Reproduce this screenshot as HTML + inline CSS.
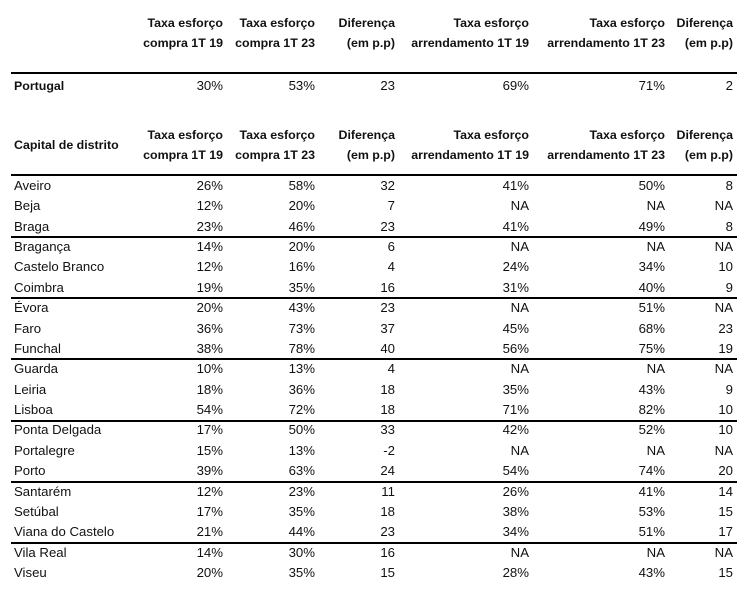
<!DOCTYPE html>
<html><head><meta charset="utf-8"><style>
body{margin:0;width:749px;height:593px;background:#fff;position:relative;font-family:"Liberation Sans",Arial,sans-serif;font-size:13.2px;color:#111;overflow:hidden}
.t{position:absolute;white-space:nowrap;line-height:14px}
.b{font-weight:bold;font-size:12.4px}
.l{position:absolute;left:11px;width:726px;background:#000}
</style></head><body>
<div id="c"></div>
<script>
var c=document.getElementById('c');var h='';
var R=[223,315,395,529,665,733];
function t(x,y,s,cls,right){h+='<div class="t '+(cls||'')+'" style="top:'+(y-7)+'px;'+(right?'right:'+(749-x)+'px':'left:'+x+'px')+'">'+s+'</div>';}
function hdr(y1,y2){var a=[['Taxa esforço','compra 1T 19'],['Taxa esforço','compra 1T 23'],['Diferença','(em p.p)'],['Taxa esforço','arrendamento 1T 19'],['Taxa esforço','arrendamento 1T 23'],['Diferença','(em p.p)']];
for(var i=0;i<6;i++){t(R[i],y1,a[i][0],'b',1);t(R[i],y2,a[i][1],'b',1);}}
hdr(23,43);
h+='<div class="l" style="top:72px;height:2px"></div>';
t(14,86,'Portugal','b');
var pv=['30%','53%','23','69%','71%','2'];for(var i=0;i<6;i++)t(R[i],86,pv[i],'',1);
hdr(135,155);t(14,145,'Capital de distrito','b');
h+='<div class="l" style="top:174px;height:2px"></div>';
var D=[['Aveiro','26%','58%','32','41%','50%','8'],['Beja','12%','20%','7','NA','NA','NA'],['Braga','23%','46%','23','41%','49%','8'],['Bragança','14%','20%','6','NA','NA','NA'],['Castelo Branco','12%','16%','4','24%','34%','10'],['Coimbra','19%','35%','16','31%','40%','9'],['Évora','20%','43%','23','NA','51%','NA'],['Faro','36%','73%','37','45%','68%','23'],['Funchal','38%','78%','40','56%','75%','19'],['Guarda','10%','13%','4','NA','NA','NA'],['Leiria','18%','36%','18','35%','43%','9'],['Lisboa','54%','72%','18','71%','82%','10'],['Ponta Delgada','17%','50%','33','42%','52%','10'],['Portalegre','15%','13%','-2','NA','NA','NA'],['Porto','39%','63%','24','54%','74%','20'],['Santarém','12%','23%','11','26%','41%','14'],['Setúbal','17%','35%','18','38%','53%','15'],['Viana do Castelo','21%','44%','23','34%','51%','17'],['Vila Real','14%','30%','16','NA','NA','NA'],['Viseu','20%','35%','15','28%','43%','15']];
for(var k=0;k<D.length;k++){var y=186+k*20.37;t(14,y,D[k][0]);for(var i=0;i<6;i++)t(R[i],y,D[k][i+1],'',1);
if(k%3==2&&k<18)h+='<div class="l" style="top:'+Math.round(y+9.5)+'px;height:2px"></div>';}
c.innerHTML=h;
</script>
</body></html>
